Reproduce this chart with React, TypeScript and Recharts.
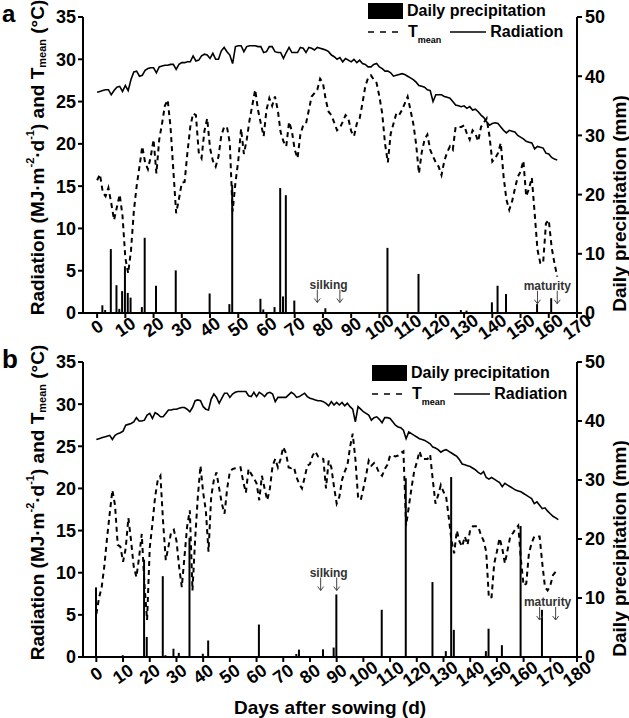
import React from 'react';
import { ComposedChart, Bar, Line, XAxis, YAxis, ReferenceDot, Legend } from 'recharts';

const FONT = '"Liberation Sans", Arial, Helvetica, sans-serif';

// ---------- Panel a ----------
const tmeanA = [
  15.7, 16.4, 14.3, 13.8, 14.8, 13.0, 11.0, 12.5, 14.0, 11.5,
  6.5, 4.7, 7.4, 12.0, 15.0, 17.3, 19.7, 17.8, 17.0, 18.5,
  20.5, 16.5, 20.5, 22.4, 24.5, 25.2, 22.0, 16.9, 11.8, 13.5,
  15.4, 15.5, 19.0, 22.0, 23.6, 23.4, 19.0, 18.3, 21.5, 23.0,
  19.5, 18.0, 17.3, 18.5, 21.0, 22.0, 22.0, 20.1, 12.0, 15.4,
  18.0, 21.8, 18.8, 20.5, 22.8, 24.6, 26.4, 24.0, 22.4, 20.9,
  24.0, 25.4, 24.5, 25.6, 24.0, 21.4, 20.3, 19.7, 22.6, 21.5,
  19.3, 18.3, 21.1, 22.2, 22.4, 24.0, 25.6, 26.0, 26.4, 27.7,
  27.2, 25.2, 23.8, 23.4, 22.5, 21.6, 21.9, 22.6, 23.4, 23.0,
  21.5, 20.9, 22.4, 23.0, 24.8, 26.8, 27.8, 28.1, 27.6, 27.2,
  25.6, 23.6, 20.0, 17.8, 21.2, 22.4, 23.6, 23.4, 24.0, 24.8,
  25.6, 24.0, 22.4, 20.0, 16.5, 19.0, 20.5, 21.1, 19.3, 18.5,
  17.8, 17.3, 16.3, 18.0, 19.0, 19.7, 19.3, 22.0, 22.0, 22.0,
  22.2, 21.2, 20.5, 21.6, 21.2, 20.3, 22.0, 22.5, 23.0, 20.9,
  17.9, 18.3, 18.9, 20.1, 16.1, 13.4, 12.2, 13.2, 14.7, 16.1,
  16.7, 18.0, 13.8, 14.7, 16.0, 11.8, 7.5, 5.9, 5.9, 10.6,
  11.0, 7.8, 5.9, 4.3,
];

const radA = [
  26.1, 26.2, 26.3, 26.4, 26.4, 25.8, 26.3, 26.7, 26.8, 26.2,
  26.9, 26.3, 27.6, 28.5, 28.6, 28.0, 28.1, 28.7, 28.9, 29.0,
  29.0, 28.4, 29.1, 29.2, 29.3, 29.3, 29.4, 29.4, 28.8, 29.4,
  29.6, 29.6, 29.7, 29.7, 30.4, 29.8, 29.9, 30.4, 30.6, 30.5,
  30.1, 30.7, 30.0, 30.0, 31.0, 31.4, 30.9, 30.5, 29.5, 31.5,
  31.6, 31.6, 30.9, 31.5, 31.6, 31.6, 31.6, 31.5, 31.5, 30.8,
  30.9, 31.5, 31.5, 30.9, 30.8, 30.8, 30.1, 30.8, 31.4, 30.8,
  30.8, 30.8, 31.4, 31.3, 30.8, 31.4, 31.3, 31.1, 31.4, 31.3,
  31.2, 31.1, 30.9, 30.5, 30.3, 30.0, 30.2, 29.7, 30.1, 29.9,
  29.7, 30.0, 29.6, 29.9, 29.5, 29.4, 29.1, 29.1, 29.4, 29.5,
  29.1, 28.9, 28.6, 28.6, 28.4, 28.0, 28.1, 28.2, 28.3, 28.2,
  28.0, 27.8, 27.6, 27.3, 26.9, 26.8, 26.7, 26.4, 26.3, 25.0,
  25.8, 25.8, 25.8, 25.6, 25.5, 25.4, 25.0, 24.6, 24.5, 24.4,
  24.5, 24.2, 24.4, 24.0, 24.1, 23.8, 23.4, 23.1, 22.6, 22.2,
  22.4, 22.5, 22.4, 22.0, 21.6, 21.3, 21.6, 21.5, 21.4, 21.0,
  20.8, 20.6, 20.3, 20.2, 20.1, 19.4, 19.7, 19.6, 19.5, 18.9,
  18.8, 18.4, 18.2, 18.1,
];

const precipDaysA = [2, 3, 5, 7, 8, 9, 10, 11, 12, 16, 17, 21, 28, 40, 47, 48, 58, 59, 63, 65, 66, 67, 70, 81, 103, 114, 129, 131, 140, 142, 145, 156, 161];
const precipA = [1.3, 0.5, 10.8, 4.7, 0.7, 3.7, 7.9, 3.4, 2.6, 1.0, 12.7, 4.6, 7.2, 3.3, 1.5, 21.6, 2.4, 0.6, 1.0, 21.1, 2.8, 19.9, 2.1, 0.8, 11.0, 6.6, 0.5, 0.4, 1.8, 4.6, 3.2, 1.5, 2.5];

const ticksA = [0, 10, 20, 30, 40, 50, 60, 70, 80, 90, 100, 110, 120, 130, 140, 150, 160, 170];
const silkingA = [78, 86];
const maturityA = [156, 163];

// ---------- Panel b ----------
const tmeanB = [
  5.1, 7.0, 8.3, 10.8, 14.1, 17.0, 19.8, 18.0, 13.3, 13.1,
  11.3, 12.9, 16.5, 13.8, 10.7, 9.5, 11.8, 14.6, 8.7, 4.4,
  13.0, 15.8, 19.0, 21.0, 21.5, 16.0, 11.5, 13.1, 14.8, 15.1,
  13.8, 10.7, 8.3, 11.9, 15.5, 17.4, 7.9, 14.0, 19.0, 22.7,
  19.5, 17.4, 12.5, 19.0, 21.0, 21.9, 20.0, 18.2, 17.0, 20.0,
  22.0, 22.3, 22.4, 22.5, 22.5, 20.8, 19.5, 22.3, 21.7, 21.2,
  20.6, 18.6, 21.5, 20.0, 18.6, 20.0, 22.7, 23.5, 22.5, 23.5,
  24.9, 24.2, 22.5, 22.4, 22.5, 21.3, 20.5, 20.0, 21.3, 22.7,
  22.9, 23.9, 24.4, 23.8, 23.6, 23.5, 20.0, 23.3, 22.5, 20.2,
  18.2, 19.0, 21.0, 22.0, 22.7, 24.9, 26.5, 23.5, 19.0, 18.6,
  20.0, 21.5, 23.3, 22.7, 23.0, 22.5, 21.8, 21.5, 22.3, 22.8,
  23.9, 23.9, 23.8, 23.9, 24.2, 24.4, 15.6, 17.8, 20.0, 22.0,
  23.1, 24.4, 23.5, 23.5, 23.5, 24.0, 21.0, 18.2, 19.2, 20.4,
  19.6, 19.0, 16.5, 13.8, 12.3, 15.0, 13.7, 13.1, 14.3, 13.3,
  15.1, 15.5, 15.5, 15.5, 14.5, 13.8, 12.5, 7.0, 7.1, 11.1,
  12.5, 14.1, 12.9, 11.1, 12.7, 14.3, 14.7, 15.2, 15.6, 11.5,
  8.5, 8.7, 12.3, 13.5, 14.3, 14.3, 14.3, 11.1, 8.3, 7.9,
  8.5, 9.7, 10.1,
];

const radB = [
  25.8, 25.9, 26.0, 26.1, 26.2, 26.3, 25.8, 26.3, 26.5, 26.6,
  26.8, 27.5, 27.6, 27.7, 27.9, 28.4, 28.0, 28.0, 28.1, 28.7,
  28.9, 28.3, 29.0, 28.8, 28.5, 28.5, 28.9, 29.3, 29.3, 29.4,
  29.4, 29.5, 29.6, 29.6, 29.4, 29.1, 29.6, 30.4, 30.5, 30.4,
  29.7, 29.4, 29.3, 30.6, 31.2, 30.8, 30.1, 30.7, 31.3, 31.3,
  30.8, 31.2, 31.4, 31.5, 31.5, 31.5, 31.5, 31.0, 30.9, 31.4,
  30.9, 31.4, 31.2, 30.9, 31.3, 31.4, 31.2, 30.3, 30.8, 30.8,
  30.8, 30.8, 31.1, 31.4, 31.2, 30.8, 30.9, 31.1, 31.3, 30.9,
  30.7, 30.6, 30.5, 30.4, 30.4, 30.3, 30.1, 29.8, 30.3, 29.9,
  30.2, 29.9, 30.2, 29.8, 30.1, 29.7, 29.4, 27.9, 29.7, 29.4,
  29.1, 28.9, 28.7, 28.1, 28.4, 28.5, 28.2, 27.8, 28.4, 28.4,
  28.3, 27.9, 27.5, 27.3, 27.2, 26.9, 25.9, 26.7, 26.5, 26.3,
  26.1, 25.9, 25.8, 25.7, 25.5, 25.3, 24.9, 24.8, 24.6, 24.3,
  24.5, 24.6, 24.4, 24.2, 24.0, 23.8, 23.4, 22.9, 22.8, 22.7,
  22.6, 22.4, 22.2, 21.9, 21.7, 22.0, 21.3, 21.1, 21.3, 21.1,
  20.9, 20.7, 20.2, 20.6, 20.4, 20.2, 20.0, 19.8, 19.7, 19.6,
  19.4, 19.2, 19.0, 18.8, 18.2, 18.4, 18.0, 17.6, 17.7, 17.3,
  17.0, 16.7, 16.5, 16.3,
];

const precipDaysB = [0, 10, 18, 19, 25, 26, 29, 31, 35, 40, 42, 61, 75, 76, 85, 89, 90, 107, 116, 126, 131, 133, 134, 146, 147, 152, 159, 167];
const precipB = [11.8, 0.3, 16.5, 3.4, 13.7, 0.3, 1.4, 0.7, 20.2, 0.55, 2.8, 5.5, 0.5, 1.25, 1.3, 1.6, 10.6, 8.0, 30.3, 12.7, 1.0, 30.5, 4.6, 1.0, 4.8, 2.0, 22.2, 8.0];

const ticksB = [0, 10, 20, 30, 40, 50, 60, 70, 80, 90, 100, 110, 120, 130, 140, 150, 160, 170, 180];
const silkingB = [84, 90];
const maturityB = [166, 172];

const leftTicks = [0, 5, 10, 15, 20, 25, 30, 35];
const rightTicks = [0, 10, 20, 30, 40, 50];

function buildRows(tmean: number[], rad: number[], pDays: number[], pVals: number[]) {
  const n = Math.max(tmean.length, rad.length, Math.max(...pDays) + 1);
  const rows: any[] = [];
  for (let d = 0; d < n; d++) {
    rows.push({
      day: d,
      tmean: d < tmean.length ? tmean[d] : null,
      rad: d < rad.length ? rad[d] : null,
      precip: null,
    });
  }
  pDays.forEach((d, i) => {
    rows[d].precip = pVals[i];
  });
  return rows;
}

const rowsA = buildRows(tmeanA, radA, precipDaysA, precipA);
const rowsB = buildRows(tmeanB, radB, precipDaysB, precipB);

const axisStyle = { stroke: '#000', strokeWidth: 2 };
const tickFont = { fontSize: 18, fontWeight: 'bold', fill: '#000', fontFamily: FONT };

const makeXTick = (off: number) => (p: any) => {
  const { x, y, payload } = p;
  const ty = y + off;
  return (
    <text x={x} y={ty} transform={`rotate(-35 ${x} ${ty})`} textAnchor="middle" dominantBaseline="central"
      fontSize={18} fontWeight="bold" fill="#000" fontFamily={FONT}>
      {payload.value}
    </text>
  );
};

const LeftTitle = (props: any) => {
  const { letter, letterDy, letterSize, viewBox } = props;
  const top = viewBox && typeof viewBox.y === 'number' ? viewBox.y : 17;
  const cx = 37;
  const cy = top + 140.5;
  return (
    <g>
      <text x={2} y={top + letterDy} fontSize={letterSize} fontWeight="bold" fill="#000" fontFamily={FONT}>{letter}</text>
      <text transform={`translate(${cx},${cy}) rotate(-90)`} textAnchor="middle" dominantBaseline="central"
        fontSize={19} fontWeight="bold" fill="#000" fontFamily={FONT}>
        Radiation (MJ·m<tspan dy={-7} fontSize={11}>-2</tspan><tspan dy={7}>·d</tspan><tspan dy={-7} fontSize={11}>-1</tspan><tspan dy={7}>) and T</tspan><tspan dy={5} fontSize={11}>mean</tspan><tspan dy={-5}> (°C)</tspan>
      </text>
    </g>
  );
};

const RightTitle = (props: any) => {
  const vb = props.viewBox;
  const top = vb && typeof vb.y === 'number' ? vb.y : 17;
  return (
    <text transform={`translate(619,${top + 186.5}) rotate(-90)`} textAnchor="middle" dominantBaseline="central"
      fontSize={19} fontWeight="bold" fill="#000" fontFamily={FONT}>
      Daily precipitation (mm)
    </text>
  );
};

const XTitle = (props: any) => {
  const vb = props.viewBox;
  const base = vb && typeof vb.y === 'number' ? vb.y : 322;
  return (
    <text x={330} y={base + 57} textAnchor="middle" fontSize={19} fontWeight="bold" fill="#000" fontFamily={FONT}>
      Days after sowing (d)
    </text>
  );
};

const arrowShape = (p: any) => (
  <g>
    <line x1={p.cx} y1={p.cy - 7} x2={p.cx} y2={p.cy + 6} stroke="#444" strokeWidth={1} />
    <path d={`M${p.cx - 3},${p.cy + 2} L${p.cx},${p.cy + 6} L${p.cx + 3},${p.cy + 2}`} fill="none" stroke="#444" strokeWidth={1} />
  </g>
);

const textShape = (label: string) => (p: any) => (
  <text x={p.cx} y={p.cy} textAnchor="middle" dominantBaseline="central" fontSize={12} fontWeight="bold" fill="#333" fontFamily={FONT}>
    {label}
  </text>
);

const LegendBox = () => (
  <div style={{ fontFamily: FONT, fontWeight: 'bold', fontSize: 16, color: '#000', width: 230 }}>
    <div style={{ display: 'flex', alignItems: 'center', height: 21 }}>
      <span style={{ display: 'inline-block', width: 35, height: 16, background: '#000', marginRight: 4 }} />
      <span>Daily precipitation</span>
    </div>
    <div style={{ display: 'flex', alignItems: 'center', height: 21 }}>
      <svg width={35} height={4}>
        <line x1={0} y1={2} x2={35} y2={2} stroke="#000" strokeWidth={1.5} strokeDasharray="6 6" />
      </svg>
      <span style={{ marginLeft: 5, position: 'relative' }}>
        T<span style={{ fontSize: 9, position: 'relative', top: 6 }}>mean</span>
      </span>
      <svg width={36} height={4} style={{ marginLeft: 9 }}>
        <line x1={0} y1={2} x2={36} y2={2} stroke="#000" strokeWidth={1.5} />
      </svg>
      <span style={{ marginLeft: 4 }}>Radiation</span>
    </div>
  </div>
);

type PanelProps = {
  rows: any[];
  xMax: number;
  ticks: number[];
  letter: string;
  letterDy: number;
  letterSize: number;
  height: number;
  marginTop: number;
  marginBottom: number;
  tickOff: number;
  legendLeft: number;
  legendTop: number;
  showXLabel: boolean;
  silking: number[];
  maturity: number[];
  silkY: number;
  matY: number;
};

function Panel(props: PanelProps) {
  const { rows, xMax, ticks, letter, letterDy, letterSize, height, marginTop, marginBottom, tickOff, legendLeft, legendTop, showXLabel, silking, maturity, silkY, matY } = props;
  const silkMid = (silking[0] + silking[1]) / 2;
  const matMid = (maturity[0] + maturity[1]) / 2;
  return (
    <ComposedChart width={629} height={height} data={rows} margin={{ top: marginTop, right: 12, left: 43, bottom: marginBottom }}>
      <XAxis dataKey="day" type="number" domain={[-5, xMax]} ticks={ticks} interval={0} allowDataOverflow
        tick={makeXTick(tickOff)} tickSize={5} tickMargin={2} height={30}
        axisLine={axisStyle} tickLine={axisStyle}
        label={showXLabel ? <XTitle /> : undefined} />
      <YAxis yAxisId="left" domain={[0, 35]} ticks={leftTicks} interval={0} width={40} tickSize={5} tickMargin={2}
        tick={tickFont} axisLine={axisStyle} tickLine={axisStyle}
        label={<LeftTitle letter={letter} letterDy={letterDy} letterSize={letterSize} />} />
      <YAxis yAxisId="right" orientation="right" domain={[0, 50]} ticks={rightTicks} interval={0} width={40} tickSize={5} tickMargin={3}
        tick={tickFont} axisLine={axisStyle} tickLine={axisStyle}
        label={<RightTitle />} />
      <Bar yAxisId="right" dataKey="precip" fill="#000" barSize={2} isAnimationActive={false} />
      <Line yAxisId="left" dataKey="tmean" stroke="#000" strokeWidth={2} strokeDasharray="5 4" dot={false} isAnimationActive={false} />
      <Line yAxisId="left" dataKey="rad" stroke="#000" strokeWidth={1.6} dot={false} isAnimationActive={false} />
      <ReferenceDot yAxisId="left" x={silkMid} y={silkY + 1.4} r={0} shape={textShape('silking')} ifOverflow="visible" />
      {silking.map((d) => (
        <ReferenceDot key={'s' + d} yAxisId="left" x={d} y={silkY} r={0} shape={arrowShape} ifOverflow="visible" />
      ))}
      <ReferenceDot yAxisId="left" x={matMid} y={matY + 1.4} r={0} shape={textShape('maturity')} ifOverflow="visible" />
      {maturity.map((d) => (
        <ReferenceDot key={'m' + d} yAxisId="left" x={d} y={matY} r={0} shape={arrowShape} ifOverflow="visible" />
      ))}
      <Legend content={() => <LegendBox />} layout="horizontal" verticalAlign="middle" align="center"
        wrapperStyle={{ top: legendTop, left: legendLeft, width: 230 }} />
    </ComposedChart>
  );
}

export default function App() {
  return (
    <div style={{ position: 'absolute', left: 0, top: 0, width: 629, height: 718, background: '#fff', fontFamily: FONT }}>
      <div style={{ position: 'absolute', left: 0, top: 0 }}>
        <Panel rows={rowsA} xMax={170} ticks={ticksA} letter="a" letterDy={5} letterSize={24} height={345} marginTop={17} marginBottom={2} tickOff={7}
          legendLeft={368} legendTop={0} showXLabel={false} silking={silkingA} maturity={maturityA} silkY={1.95} matY={1.8} />
      </div>
      <div style={{ position: 'absolute', left: 0, top: 335 }}>
        <Panel rows={rowsB} xMax={180} ticks={ticksB} letter="b" letterDy={6} letterSize={26} height={383} marginTop={27} marginBottom={31} tickOff={10}
          legendLeft={372} legendTop={27} showXLabel={true} silking={silkingB} maturity={maturityB} silkY={8.6} matY={5.1} />
      </div>
    </div>
  );
}
